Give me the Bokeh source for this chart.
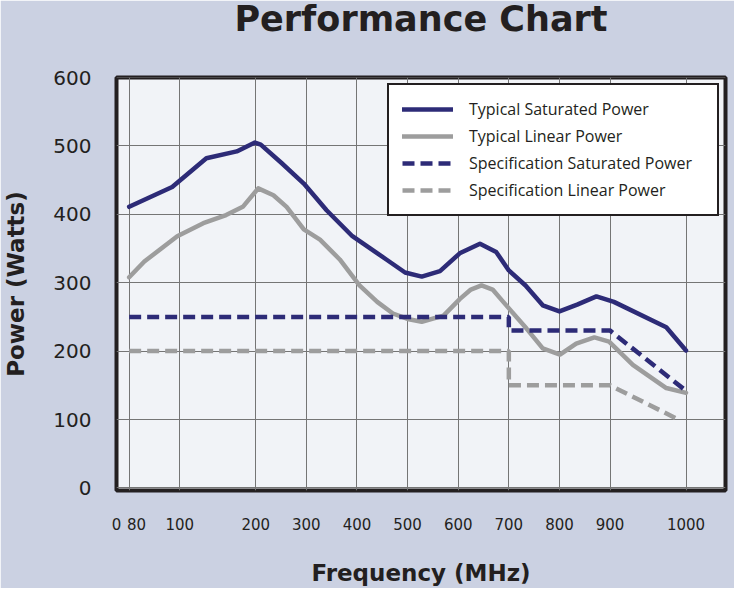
import numpy as np
from bokeh.plotting import figure
from bokeh.models import Range1d, FixedTicker, Legend, LegendItem, Title
from bokeh.embed import file_html
from bokeh.resources import INLINE

TITLE = "Performance Chart"
X_LABEL = "Frequency (MHz)"
Y_LABEL = "Power (Watts)"

# Non-uniform frequency axis: each tick frequency and its slot on the axis
TICK_FREQ = [0, 80, 100, 200, 300, 400, 500, 600, 700, 800, 900, 1000]
TICK_SLOT = [0, 0.25, 1.25, 2.75, 3.75, 4.75, 5.75, 6.75, 7.75, 8.75, 9.75, 11.25]
TICK_LABELS = ["0", "80", "100", "200", "300", "400", "500", "600", "700", "800", "900", "1000"]
Y_TICKS = [0, 100, 200, 300, 400, 500, 600]

# Typical Saturated Power
SAT_FREQ = [80, 97, 135, 175, 199, 210, 251, 295, 340, 391, 458, 495, 528, 564, 603, 643, 675, 700, 733, 767, 800, 835, 873, 905, 974, 1000]
SAT_POW = [411, 440, 482, 492, 505, 502, 475, 445, 406, 368, 334, 315, 309, 317, 343, 357, 345, 318, 296, 267, 258, 268, 280, 272, 235, 201]

# Typical Linear Power
LIN_FREQ = [80, 86, 99, 131, 161, 183, 205, 235, 261, 295, 327, 366, 405, 440, 471, 500, 528, 571, 603, 625, 646, 668, 689, 735, 767, 801, 833, 869, 898, 930, 974, 1000]
LIN_POW = [308, 331, 368, 387, 399, 411, 438, 428, 411, 378, 363, 334, 296, 272, 255, 247, 243, 252, 276, 290, 296, 290, 272, 233, 204, 195, 211, 220, 214, 180, 146, 139]

# Specification Saturated Power
SPEC_SAT_FREQ = [80, 700, 700, 900, 1000]
SPEC_SAT_POW = [250, 250, 230, 230, 142]

# Specification Linear Power
SPEC_LIN_FREQ = [80, 700, 700, 900, 990]
SPEC_LIN_POW = [200, 200, 150, 150, 100]

SERIES_NAMES = ["Typical Saturated Power", "Typical Linear Power",
                "Specification Saturated Power", "Specification Linear Power"]

NAVY = "#2d2b77"
GRAY = "#9d9d9d"
INK = "#231f20"
BG = "#cbd1e2"


def to_slot(freq):
    return np.interp(np.asarray(freq, dtype=float), TICK_FREQ, TICK_SLOT)


X_END = 12.03
Y_START, Y_END = -3.8, 600.1

p = figure(width=734, height=588, output_backend="svg", toolbar_location=None,
           x_range=Range1d(0, X_END), y_range=Range1d(Y_START, Y_END),
           min_border_left=115, min_border_right=9, min_border_top=77, min_border_bottom=97,
           title=TITLE)

p.background_fill_color = "#f1f3f7"
p.border_fill_color = BG
p.outline_line_color = INK
p.outline_line_width = 4
p.outline_line_alpha = 1.0

# main title (outermost) pushed to the top of the border by an inner, background-coloured spacer
p.title.align = "center"
p.title.vertical_align = "top"
p.title.standoff = -11
p.title.text_font = "DejaVu Sans"
p.title.text_font_style = "bold"
p.title.text_font_size = "35px"
p.title.text_color = INK
p.add_layout(Title(text=".", text_font_size="10px", standoff=31.6, text_color=BG, align="right"), "above")

# tick labels ("80" nudged right so it clears "0")
label_slots = [float(s) for s in TICK_SLOT]
label_slots[1] = label_slots[1] + 0.144
p.xaxis.ticker = FixedTicker(ticks=label_slots)
p.xaxis.major_label_overrides = {s: t for s, t in zip(label_slots, TICK_LABELS)}
p.yaxis.ticker = FixedTicker(ticks=Y_TICKS)
p.yaxis.major_label_overrides = {v: str(v) for v in Y_TICKS}

for ax in (p.xaxis, p.yaxis):
    ax.axis_line_color = None
    ax.major_tick_line_color = None
    ax.minor_tick_line_color = None
    ax.major_label_text_color = INK
    ax.major_label_text_font = "DejaVu Sans"
    ax.axis_label_text_font = "DejaVu Sans"
    ax.axis_label_text_font_style = "bold"
    ax.axis_label_text_font_size = "23px"
    ax.axis_label_text_color = INK
p.xaxis.axis_label = X_LABEL
p.yaxis.axis_label = Y_LABEL
p.xaxis.major_label_text_font_size = "15px"
p.yaxis.major_label_text_font_size = "20px"
p.xaxis.major_label_standoff = 21
p.yaxis.major_label_standoff = 19
p.xaxis.axis_label_standoff = 27
p.yaxis.axis_label_standoff = 21

p.xgrid.ticker = FixedTicker(ticks=[float(s) for s in TICK_SLOT[1:]])
p.ygrid.ticker = FixedTicker(ticks=Y_TICKS)
for g in (p.xgrid, p.ygrid):
    g.grid_line_color = "#757575"
    g.grid_line_width = 1

r1 = p.line(to_slot(SAT_FREQ), SAT_POW, line_color=NAVY, line_width=4.5, line_join="round", line_cap="round")
r2 = p.line(to_slot(LIN_FREQ), LIN_POW, line_color=GRAY, line_width=4.5, line_join="round", line_cap="round")
r3 = p.line(to_slot(SPEC_SAT_FREQ), SPEC_SAT_POW, line_color=NAVY, line_width=4.5, line_dash="12 6")
r4 = p.line(to_slot(SPEC_LIN_FREQ), SPEC_LIN_POW, line_color=GRAY, line_width=4.5, line_dash="12 6")

legend = Legend(items=[LegendItem(label=n, renderers=[r]) for n, r in zip(SERIES_NAMES, [r1, r2, r3, r4])],
                location="top_right", margin=6, padding=13, spacing=5,
                glyph_width=51, glyph_height=20, label_height=20, label_width=235, label_standoff=16,
                border_line_color=INK, border_line_width=2.5, border_line_alpha=1.0,
                background_fill_color="white", background_fill_alpha=1.0,
                label_text_font="Open Sans", label_text_font_size="16px", label_text_color=INK)
p.add_layout(legend)

open("out.html", "w").write(file_html(p, INLINE))
